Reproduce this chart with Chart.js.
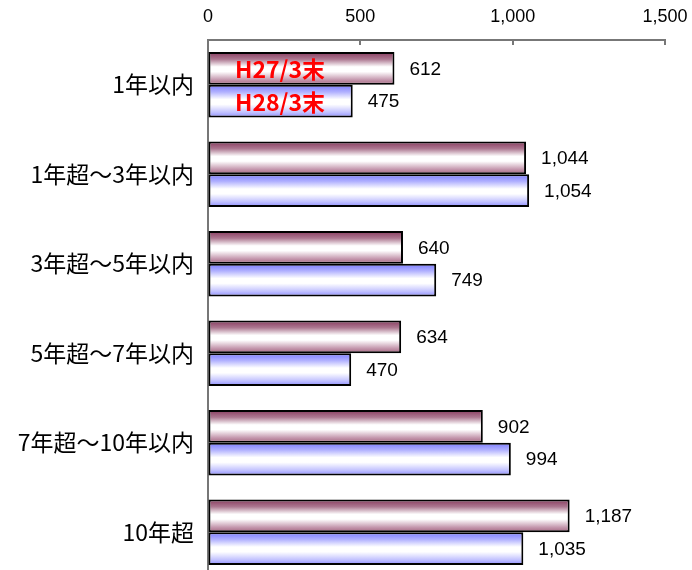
<!DOCTYPE html>
<html lang="ja">
<head>
    <meta charset="UTF-8">
    <title>残存期間別</title>
    <script src="https://cdn.jsdelivr.net/npm/chart.js"></script>
    <style>
        body { margin: 0; overflow: hidden; background: #fff; }
    </style>
</head>
<body>
    <canvas id="myChart" width="692" height="577"></canvas>
    <script>
        // データ
        const categories = ['1年以内', '1年超～3年以内', '3年超～5年以内', '5年超～7年以内', '7年超～10年以内', '10年超'];
        const seriesNames = ['H27/3末', 'H28/3末'];
        const h27 = [612, 1044, 640, 634, 902, 1187];
        const h28 = [475, 1054, 749, 470, 994, 1035];
        const axisTicks = [0, 500, 1000, 1500];

        const catPct = 0.73;
        const numFont = '"Liberation Sans", Arial, sans-serif';
        const jpFont = '"Noto Sans CJK JP", sans-serif';

        // グラデーション（上が濃く、中央が白）
        const gradStops = [
            ['#873a5e', '#ad7891', '#ffffff', '#ffffff', '#c497ad', '#a3647f'],
            ['#7a7aff', '#b0b0ff', '#ffffff', '#ffffff', '#c0c0ff', '#8c8cff']
        ];

        function barGradient(context) {
            const chart = context.chart;
            const y = chart.scales.y;
            const stops = gradStops[context.datasetIndex];
            if (!y || !chart.chartArea) return stops[0];
            const catH = (y.bottom - y.top) / categories.length;
            const barH = catH * catPct / 2;
            const center = y.getPixelForValue(context.dataIndex);
            const top = center - barH + context.datasetIndex * barH;
            const g = chart.ctx.createLinearGradient(0, top, 0, top + barH);
            const pos = [0, 0.22, 0.45, 0.6, 0.85, 1];
            pos.forEach((p, i) => g.addColorStop(p, stops[i]));
            return g;
        }

        const barStyle = {
            backgroundColor: barGradient,
            borderColor: '#000',
            borderWidth: 2,
            borderSkipped: false,
            categoryPercentage: catPct,
            barPercentage: 1
        };

        // 値ラベル・凡例・目盛り線
        const extras = {
            id: 'extras',
            afterDatasetsDraw(chart) {
                const c = chart.ctx;
                c.save();
                c.fillStyle = '#000';
                c.font = '19px ' + numFont;
                c.textAlign = 'left';
                c.textBaseline = 'middle';
                chart.data.datasets.forEach((ds, di) => {
                    chart.getDatasetMeta(di).data.forEach((el, i) => {
                        c.fillText(ds.data[i].toLocaleString('en-US'), el.x + 15, el.y + 1);
                    });
                });
                // 凡例（最初の棒の中）
                c.fillStyle = '#ff0000';
                c.font = 'bold 23px ' + jpFont;
                const x0 = chart.scales.x.getPixelForValue(0);
                chart.data.datasets.forEach((ds, di) => {
                    const el = chart.getDatasetMeta(di).data[0];
                    c.fillText(ds.label, x0 + 27, el.y + 1);
                });
                c.restore();
            },
            afterDraw(chart) {
                const x = chart.scales.x;
                const c = chart.ctx;
                c.save();
                c.strokeStyle = '#777';
                c.lineWidth = 2;
                x.ticks.forEach(t => {
                    if (t.value === 0) return;
                    const px = Math.round(x.getPixelForValue(t.value));
                    c.beginPath();
                    c.moveTo(px, x.bottom);
                    c.lineTo(px, x.bottom + 5);
                    c.stroke();
                });
                c.restore();
            }
        };

        new Chart(document.getElementById('myChart').getContext('2d'), {
            type: 'bar',
            data: {
                labels: categories,
                datasets: [
                    Object.assign({ label: seriesNames[0], data: h27 }, barStyle),
                    Object.assign({ label: seriesNames[1], data: h28 }, barStyle)
                ]
            },
            options: {
                indexAxis: 'y',
                responsive: false,
                animation: false,
                layout: { padding: { top: 0, right: 27, bottom: 0, left: 0 } },
                plugins: {
                    legend: { display: false },
                    tooltip: { enabled: false }
                },
                scales: {
                    x: {
                        position: 'top',
                        min: axisTicks[0],
                        max: axisTicks[axisTicks.length - 1],
                        afterBuildTicks(scale) {
                            scale.ticks = axisTicks.map(v => ({ value: v }));
                        },
                        afterFit(scale) {
                            scale.height = 40;
                            scale.paddingLeft = 0;
                            scale.paddingRight = 0;
                        },
                        grid: { drawOnChartArea: false, drawTicks: false },
                        border: { color: '#777', width: 2 },
                        ticks: {
                            padding: 12,
                            color: '#000',
                            font: { family: numFont, size: 18 },
                            callback: v => v.toLocaleString('en-US')
                        }
                    },
                    y: {
                        afterFit(scale) {
                            scale.width = 208;
                            scale.paddingTop = 0;
                            scale.paddingBottom = 0;
                        },
                        grid: { drawOnChartArea: false, drawTicks: false },
                        border: { color: '#777', width: 2 },
                        ticks: {
                            padding: 14,
                            color: '#000',
                            font: { family: jpFont, size: 23 }
                        }
                    }
                }
            },
            plugins: [extras]
        });
    </script>
</body>
</html>
